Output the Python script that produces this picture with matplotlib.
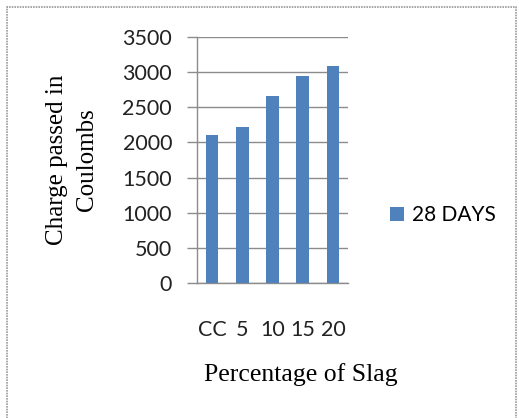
import matplotlib
matplotlib.use("Agg")
import matplotlib.pyplot as plt
from matplotlib.patches import Rectangle

# data
categories = ['CC', '5', '10', '15', '20']
charge_28d = [2110, 2220, 2665, 2940, 3085]
y_ticks = [0, 500, 1000, 1500, 2000, 2500, 3000, 3500]

W, H = 519, 418
fig = plt.figure(figsize=(W / 100, H / 100), dpi=100)

# outer frame like the pasted chart box
fig.patches.append(Rectangle((7 / W, -0.05), 509 / W, 1.05 - 7 / H,
                             transform=fig.transFigure, fill=False,
                             edgecolor='#9a9a9a', linewidth=1.2,
                             linestyle=(0, (1, 0.6))))

ax = fig.add_axes([197 / W, 1 - 283 / H, 151 / W, 246 / H])

x = range(len(categories))
ax.bar(x, charge_28d, width=0.42, color='#4F81BD', label='28 DAYS', zorder=3)

ax.set_xlim(-0.5, len(categories) - 0.5)
ax.set_ylim(0, 3500)
ax.set_yticks(y_ticks)
ax.set_xticks(list(x))
ax.set_xticklabels(categories)

ax.grid(axis='y', color='#8c8c8c', linewidth=1.0, zorder=0)
ax.set_axisbelow(True)
for s in ['top', 'right']:
    ax.spines[s].set_visible(False)
for s in ['left', 'bottom']:
    ax.spines[s].set_color('#8c8c8c')
    ax.spines[s].set_linewidth(1.0)

for lab in ax.get_yticklabels() + ax.get_xticklabels():
    lab.set_fontfamily('Lato')
    lab.set_fontsize(15.5)
    lab.set_color('#222222')
ax.tick_params(axis='y', length=7, width=1.0, color='#8c8c8c', pad=11)
ax.tick_params(axis='x', length=0, pad=27)

ax.set_xlabel('Percentage of Slag', fontfamily='Liberation Serif',
              fontsize=18.5, va='center')
ax.xaxis.set_label_coords((301 - 197) / 151, (283 - 375) / 246)
ax.set_ylabel('Charge passed in\nCoulombs', fontfamily='Liberation Serif',
              fontsize=18, linespacing=1.5, va='center')
ax.yaxis.set_label_coords((72 - 197) / 151, 0.5)

fig.legend(loc='center left', bbox_to_anchor=(390 / W, 1 - 215 / H),
           frameon=False, prop={'family': 'Lato', 'size': 15},
           handlelength=0.68, handleheight=0.68, handletextpad=0.38,
           borderpad=0, borderaxespad=0)

fig.savefig('out.png', dpi=100)
